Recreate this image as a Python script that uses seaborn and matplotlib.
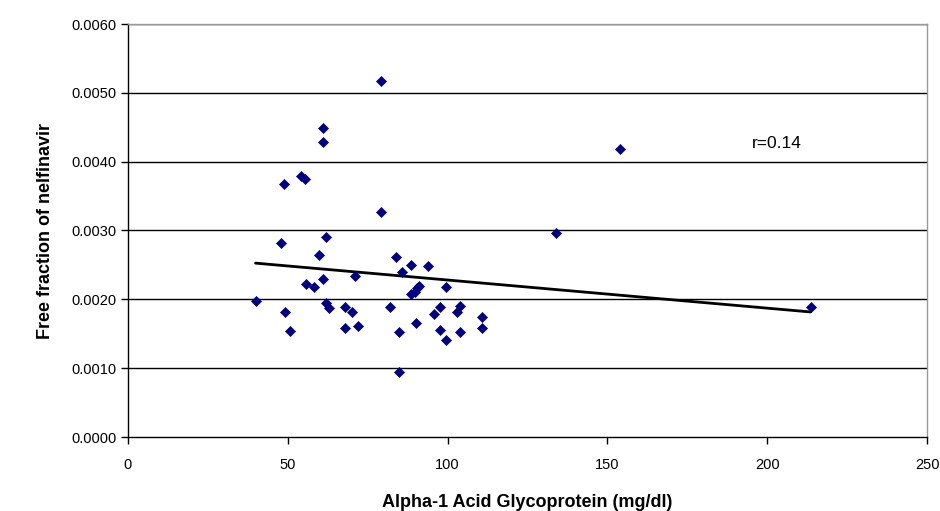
import matplotlib
matplotlib.use("Agg")
import matplotlib.pyplot as plt
import seaborn as sns
import numpy as np
import pandas as pd

# Alpha-1 acid glycoprotein (mg/dl) vs free fraction of nelfinavir
agp = [79.1, 60.9, 60.9, 48.9, 54.1, 55.3, 79.1, 61.9,
       47.8, 59.9, 55.8, 58.1, 60.9, 70.9, 39.9, 49.0, 50.8, 61.8,
       62.8, 68.0, 70.1, 68.0, 72.0, 82.0, 83.8, 85.7, 88.6, 94.0,
       84.9, 84.9, 88.6, 89.7, 90.4, 91.2, 90.1, 99.6, 97.7, 95.8,
       97.7, 99.6, 103.9, 103.0, 103.9, 110.7, 110.7,
       153.8, 133.8, 213.6]
free_frac = [0.00517, 0.00449, 0.00428, 0.00368, 0.00379, 0.00375, 0.00327, 0.00291,
             0.00282, 0.00264, 0.00223, 0.00218, 0.00230, 0.00234, 0.00197, 0.00181, 0.00154, 0.00195,
             0.00187, 0.00189, 0.00181, 0.00159, 0.00161, 0.00189, 0.00261, 0.00240, 0.00250, 0.00248,
             0.00152, 0.00094, 0.00208, 0.00211, 0.00216, 0.00219, 0.00165, 0.00218, 0.00189, 0.00178,
             0.00155, 0.00141, 0.00190, 0.00181, 0.00152, 0.00174, 0.00159,
             0.00419, 0.00297, 0.00189]
y_ticks = [0.0, 0.001, 0.002, 0.003, 0.004, 0.005, 0.006]
x_ticks = [0, 50, 100, 150, 200, 250]
r_label = "r=0.14"

df = pd.DataFrame({"agp": agp, "free": free_frac})

sns.set_style("white")
plt.rcParams["font.family"] = ["Liberation Sans", "DejaVu Sans"]
plt.rcParams["text.color"] = "black"
plt.rcParams["axes.labelcolor"] = "black"
plt.rcParams["xtick.color"] = "black"
plt.rcParams["ytick.color"] = "black"

fig = plt.figure(figsize=(9.4, 5.11), dpi=100)
ax = fig.add_axes([128 / 940, 1 - 437 / 511, 799 / 940, 413 / 511])

for t in y_ticks[1:]:
    ax.axhline(t, color="black", lw=1.0, zorder=1)

sns.regplot(data=df, x="agp", y="free", ax=ax, ci=None, scatter=False,
            truncate=True, line_kws={"color": "black", "lw": 2.0, "zorder": 2})
sns.scatterplot(data=df, x="agp", y="free", ax=ax, marker="D", s=26,
                color="#000080", edgecolor="#000080", linewidth=0.5, zorder=3)

ax.set_xlim(0, 250)
ax.set_ylim(0, 0.006)
ax.set_xticks(x_ticks)
ax.set_yticks(y_ticks)
ax.set_yticklabels([f"{v:.4f}" for v in y_ticks])
ax.tick_params(axis="both", labelsize=10.5, direction="out", length=5,
               width=1, color="black", labelcolor="black", left=True, bottom=True)
ax.tick_params(axis="x", pad=10)

for side in ["left", "bottom"]:
    ax.spines[side].set_color("black")
    ax.spines[side].set_linewidth(1)
for side in ["top", "right"]:
    ax.spines[side].set_color("#999999")
    ax.spines[side].set_linewidth(1)

ax.set_xlabel("Alpha-1 Acid Glycoprotein (mg/dl)", fontsize=13, fontweight="bold",
              labelpad=16, color="black")
ax.set_ylabel("Free fraction of nelfinavir", fontsize=13, fontweight="bold",
              labelpad=12, color="black")

ax.text(203, 0.00426, r_label, fontsize=12.5, ha="center", va="center", color="black")

fig.savefig("out.png", dpi=100)
